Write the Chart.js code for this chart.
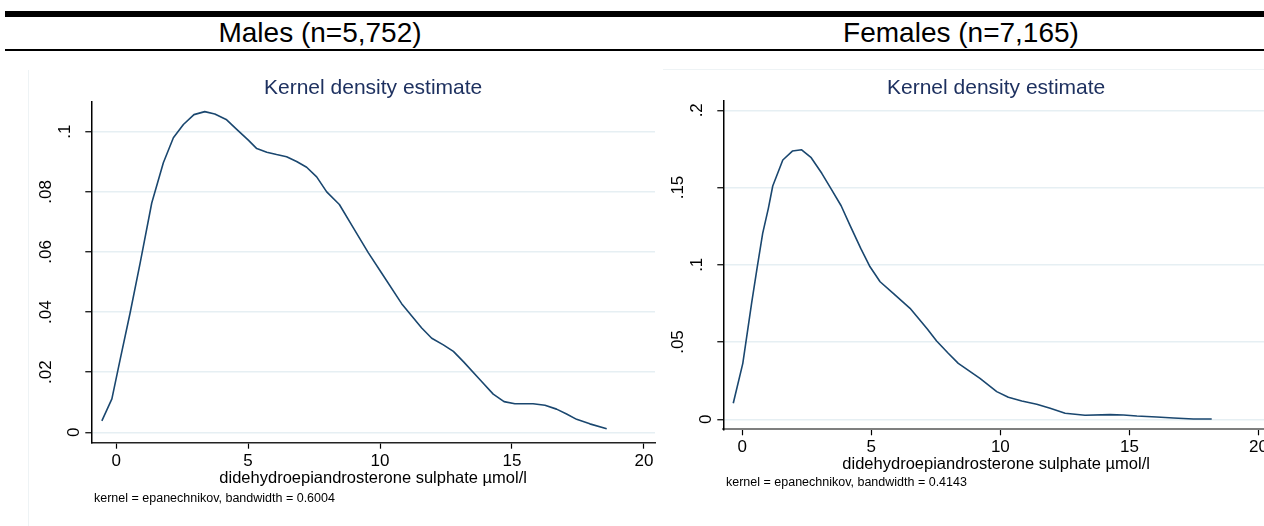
<!DOCTYPE html>
<html>
<head>
<meta charset="utf-8">
<script src="https://cdn.jsdelivr.net/npm/chart.js@4.4.1/dist/chart.umd.min.js"></script>
<style>
  body { margin: 0; width: 1264px; height: 526px; overflow: hidden; position: relative; background: #fff; font-family: "Liberation Sans", Arial, sans-serif; }
  .abs { position: absolute; }
  .hdr { top: 17px; height: 32px; line-height: 32px; text-align: center; font-size: 28px; color: #000; }
  canvas { position: absolute; top: 0; }
</style>
</head>
<body>
<div class="abs" style="left:5px;right:0;top:11px;height:6px;background:#000"></div>
<div class="abs" style="left:5px;right:0;top:49px;height:2px;background:#000"></div>
<div class="abs hdr" style="left:0;width:640px">Males (n=5,752)</div>
<div class="abs hdr" style="left:641px;width:640px">Females (n=7,165)</div>
<div class="abs" style="left:28px;top:70px;bottom:0;width:1px;background:#eef3f5"></div>
<div class="abs" style="left:663px;right:0;top:69px;height:1px;background:#eef3f5"></div>
<canvas id="male" width="660" height="526" style="left:0"></canvas>
<canvas id="female" width="640" height="526" style="left:640px"></canvas>
<script>
const FONT = '"Liberation Sans", Arial, sans-serif';

const xTicks = [0, 5, 10, 15, 20];
const xTitle = 'didehydroepiandrosterone sulphate µmol/l';

const maleX = [-0.54, -0.16, 0.15, 0.53, 0.91, 1.35, 1.79, 2.17, 2.55, 2.95, 3.36, 3.74, 4.17, 4.57, 5.01, 5.33, 5.71, 6.08, 6.46, 6.84, 7.22, 7.6, 7.98, 8.46, 8.99, 9.56, 10.06, 10.82, 11.58, 11.96, 12.4, 12.78, 13.16, 13.85, 14.29, 14.7, 15.11, 15.8, 16.25, 16.69, 17.07, 17.45, 17.95, 18.59];
const maleY = [0.0038, 0.0111, 0.0241, 0.0397, 0.0563, 0.0763, 0.0897, 0.098, 0.1024, 0.1057, 0.1067, 0.1059, 0.1041, 0.1008, 0.0972, 0.0944, 0.0932, 0.0924, 0.0917, 0.0901, 0.0882, 0.085, 0.08, 0.0758, 0.068, 0.0597, 0.053, 0.0428, 0.0347, 0.0313, 0.0291, 0.0269, 0.0235, 0.0169, 0.0127, 0.0102, 0.0095, 0.0095, 0.009, 0.0077, 0.0061, 0.0043, 0.0028, 0.0012];
const maleYTicks = [0, 0.02, 0.04, 0.06, 0.08, 0.1];
const maleYLabels = ['0', '.02', '.04', '.06', '.08', '.1'];

const femaleX = [-0.35, 0.02, 0.36, 0.58, 0.79, 1.01, 1.18, 1.57, 1.94, 2.3, 2.67, 3.08, 3.43, 3.83, 4.17, 4.59, 4.95, 5.34, 5.85, 6.5, 7.17, 7.53, 7.98, 8.37, 9.21, 9.86, 10.31, 10.83, 11.41, 11.93, 12.51, 13.28, 14.25, 14.77, 15.29, 16.06, 16.71, 17.48, 18.19];
const femaleY = [0.0104, 0.0362, 0.075, 0.0987, 0.1203, 0.1365, 0.151, 0.1678, 0.1736, 0.1744, 0.1693, 0.1592, 0.1495, 0.1382, 0.1257, 0.1106, 0.0987, 0.089, 0.0815, 0.0718, 0.0584, 0.0507, 0.0427, 0.0362, 0.0265, 0.0179, 0.0142, 0.0118, 0.0097, 0.0071, 0.0039, 0.0026, 0.003, 0.0028, 0.0021, 0.0015, 0.0008, 0.0002, 0.0002];
const femaleYTicks = [0, 0.05, 0.1, 0.15, 0.2];
const femaleYLabels = ['0', '.05', '.1', '.15', '.2'];

// titles, rotated y labels, axis title and kernel note, drawn the stata way
const stataText = {
    id: 'stataText',
    afterDraw(chart, args, o) {
        const { ctx, chartArea: a, scales: { y } } = chart;
        ctx.save();
        ctx.fillStyle = '#1e3160';
        ctx.font = `21px ${FONT}`;
        ctx.textAlign = 'center';
        ctx.textBaseline = 'middle';
        ctx.fillText('Kernel density estimate', (a.left + a.right) / 2, 88);

        ctx.fillStyle = '#000';
        ctx.font = `17px ${FONT}`;
        const w0 = ctx.measureText('0').width;
        o.yLabels.forEach((t, i) => {
            const py = y.getPixelForValue(o.yTicks[i]);
            const w = ctx.measureText(t).width;
            ctx.save();
            ctx.translate(a.left - 12 - 2 * (w - w0), py);
            ctx.rotate(-Math.PI / 2);
            ctx.textAlign = 'center';
            ctx.textBaseline = 'alphabetic';
            ctx.fillText(t, 0, 0);
            ctx.restore();
        });

        ctx.font = `16.5px ${FONT}`;
        ctx.textAlign = 'center';
        ctx.textBaseline = 'middle';
        ctx.fillText(xTitle, (a.left + a.right) / 2, a.bottom + 35.5);

        ctx.font = `12.5px ${FONT}`;
        ctx.textAlign = 'left';
        ctx.fillText(o.note, a.left + 2.7, a.bottom + o.noteGap);
        ctx.restore();
    }
};

const makeChart = (id, xs, ys, yTicks, yLabels, cfg) => {
    const ctx = document.getElementById(id).getContext('2d');
    return new Chart(ctx, {
        type: 'scatter',
        data: {
            datasets: [{
                data: xs.map((x, i) => ({ x, y: ys[i] })),
                showLine: true,
                borderColor: '#1a476f',
                borderWidth: 1.6,
                pointRadius: 0,
                tension: 0,
                borderJoinStyle: 'round'
            }]
        },
        options: {
            responsive: false,
            animation: false,
            devicePixelRatio: 1,
            layout: { padding: cfg.padding },
            plugins: {
                legend: { display: false },
                tooltip: { enabled: false },
                stataText: { yTicks, yLabels, note: cfg.note, noteGap: cfg.noteGap }
            },
            scales: {
                x: {
                    type: 'linear',
                    min: cfg.xMin,
                    max: cfg.xMax,
                    afterBuildTicks: s => { s.ticks = xTicks.map(v => ({ value: v })); },
                    afterFit: s => { s.height = 40; },
                    border: { display: true, color: cfg.xAxisColor, width: cfg.xAxisWidth },
                    grid: { drawOnChartArea: false, drawTicks: true, tickLength: 6, tickColor: '#000', tickWidth: 1.2 },
                    ticks: { color: '#000', font: { size: 17, family: FONT }, padding: 2, maxRotation: 0, autoSkip: false, callback: v => String(v) }
                },
                y: {
                    type: 'linear',
                    min: cfg.yMin,
                    max: cfg.yMax,
                    afterBuildTicks: s => { s.ticks = yTicks.map(v => ({ value: v })); },
                    afterFit: s => { s.width = 30; },
                    border: { display: true, color: '#000', width: 1.5 },
                    grid: { color: '#e6eff3', lineWidth: 1.5, drawTicks: true, tickLength: 6, tickColor: '#000', tickWidth: 1.2 },
                    ticks: { display: false }
                }
            }
        },
        plugins: [stataText]
    });
};

makeChart('male', maleX, maleY, maleYTicks, maleYLabels, {
    padding: { left: 61.3, right: 5, top: 101.7, bottom: 43.3 },
    xMin: -0.94, xMax: 20.42, yMin: -0.00347, yMax: 0.11,
    xAxisColor: '#222', xAxisWidth: 1.5,
    note: 'kernel = epanechnikov, bandwidth = 0.6004', noteGap: 56.3
});

makeChart('female', femaleX, femaleY, femaleYTicks, femaleYLabels, {
    padding: { left: 53.3, right: 11, top: 101, bottom: 56.7 },
    xMin: -0.736, xMax: 20.41, yMin: -0.0065, yMax: 0.206,
    xAxisColor: '#7f7f7f', xAxisWidth: 2,
    note: 'kernel = epanechnikov, bandwidth = 0.4143', noteGap: 53.7
});
</script>
</body>
</html>
